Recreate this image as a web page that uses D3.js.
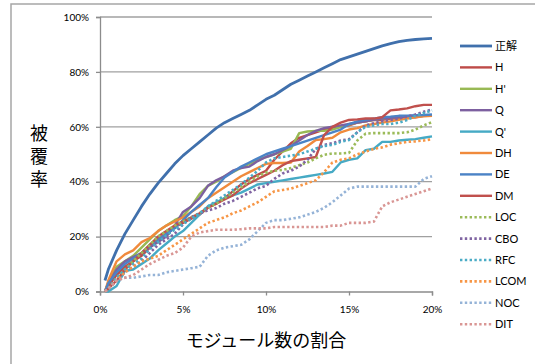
<!DOCTYPE html>
<html lang="ja">
<head>
<meta charset="UTF-8">
<title>被覆率</title>
<script src="https://d3js.org/d3.v7.min.js"></script>
<style>
  body { margin: 0; background: #fff; }
  text { font-family: Lato, "Open Sans", sans-serif; fill: #000; }
  .jp { font-family: "Noto Sans CJK JP", sans-serif; }
</style>
</head>
<body>
<script>
// x: モジュール数の割合 (%)
const xs = [0.3, 0.5, 1, 1.5, 2, 2.5, 3, 3.5, 4, 4.5, 5, 5.5, 6, 6.5, 7, 7.5, 8, 8.5, 9, 9.5, 10,
            10.5, 11, 11.5, 12, 12.5, 13, 13.5, 14, 14.5, 15, 15.5, 16, 16.5, 17, 17.5, 18, 18.5, 19, 19.5, 20];

const seiKai = [4, 8, 15, 21, 26, 31, 35.5, 39.5, 43, 46.5, 49.5, 52, 54.5, 57, 59.5, 61.5, 63, 64.5, 66, 68, 70,
                71.5, 73.5, 75.5, 77, 78.5, 80, 81.5, 83, 84.5, 85.5, 86.5, 87.5, 88.5, 89.5, 90.3, 91, 91.5, 91.8, 92, 92.2];
const H     = [0, 2, 6, 9, 11, 13, 16, 19, 21, 23.5, 25, 26.5, 28, 30.5, 32, 34, 36.5, 39, 41, 42.5, 44,
               48, 51, 54, 56, 57, 58, 59, 59.5, 60, 60.5, 61.5, 62, 62.5, 62.5, 63, 63, 63.5, 63.5, 64, 64];
const Hp    = [0, 3, 9, 11, 13, 16, 19, 22, 24, 26, 27.5, 31, 35.5, 38.5, 40, 42, 43.5, 45, 46.5, 48, 49,
               50, 51, 52, 57.7, 58.3, 58.5, 58.5, 59, 60, 60.8, 61.5, 62, 62.5, 63, 63.3, 63.5, 63.7, 64, 64, 64];
const Q     = [0, 3, 8, 11, 12.5, 14, 16, 18, 20, 24, 29, 31, 34, 38.5, 40.5, 42, 44, 45, 45.5, 47.5, 49,
               50, 51.5, 53, 55, 57, 58.5, 59.5, 60, 60.5, 61, 61.5, 62, 62.5, 63, 63.3, 63.5, 63.7, 64, 64, 64];
const Qp    = [0, 0, 2, 7.5, 8, 10, 12, 15, 17.5, 20, 22, 25, 28, 31, 32.5, 34, 35, 36, 37.5, 39, 39.5,
               40, 40.5, 41, 41.5, 42, 42.5, 43, 43.6, 47, 48, 48.5, 51.5, 52, 54.5, 54.5, 55, 55.3, 55.5, 56, 56.5];
const DH    = [0, 4, 11, 13.5, 15, 18, 19.5, 22, 24, 25.5, 27, 29, 31, 34, 36, 38, 40, 42, 43.5, 45, 46.5,
               46.8, 46.8, 47, 51, 53, 55.2, 55.5, 56, 58, 59, 59.5, 60.5, 61, 61.5, 62, 62.5, 63, 63.5, 63.8, 64];
const DE    = [0, 3, 7, 10, 12, 14, 17, 19, 21, 23, 26, 29, 31.5, 34, 38, 41.5, 43.5, 45.5, 47, 48.5, 50,
               51, 52, 53, 54, 55, 56, 57, 58, 59, 61, 62, 62.5, 63, 63.5, 63.7, 64, 64, 64.2, 64.3, 64.5];
const DM    = [0, 1, 4, 8, 11, 14, 17, 20, 22, 24, 25.5, 27, 28.5, 30.5, 32, 33.5, 35, 37.5, 39.5, 41, 42.5,
               44, 46, 47.5, 48, 48.5, 49, 57, 60, 61.5, 62.5, 62.7, 63, 63, 63.5, 66, 66.3, 66.7, 67.5, 68, 68];
const LOC   = [0, 1, 5, 8, 11, 14, 17, 20, 22, 24, 25.5, 27, 28.5, 30.5, 32, 34, 36, 38, 40, 42, 43.3,
               44, 44.3, 45, 46, 47, 48.5, 49.8, 50.3, 50.3, 50.5, 55, 57.5, 57.7, 57.7, 57.7, 57.7, 58, 59, 60.5, 61.7];
const CBO   = [0, 1, 4, 7, 9, 11, 14, 17, 19, 21, 24.5, 27, 28.5, 29.5, 30.4, 32, 33, 34.5, 36, 37.6, 38.5,
               41, 43, 44, 45.5, 48, 52, 53.4, 54, 55, 55.5, 58, 60.5, 61.3, 62, 62.5, 63, 63.7, 64.5, 65.5, 66.3];
const RFC   = [0, 1, 5, 8, 10, 12, 15.5, 18, 20.5, 22.5, 24.5, 26.5, 28.5, 31, 33, 35, 37, 39, 41.5, 44, 47,
               48.5, 49, 49.5, 50, 51, 52, 53, 53.4, 54.5, 55.2, 58, 60, 60.5, 61, 61, 61.5, 62.5, 64, 65, 66];
const LCOM  = [0, 1, 4, 7, 9, 11, 12, 13, 15, 17, 19, 21, 23, 25, 26, 27, 28.5, 29.5, 31, 32.5, 34.5,
               36.5, 37, 37.5, 38.5, 39.5, 40.5, 43.5, 47, 48, 48.5, 50, 51, 52, 52.5, 53.5, 54, 54.5, 54.7, 55, 55.5];
const NOC   = [0, 1, 4, 5, 5, 5.5, 6, 6, 7, 7.5, 8, 8.5, 9, 13, 15, 16, 16.5, 17, 19, 22, 25,
               26, 26, 26.5, 27, 28, 29, 30.5, 32.5, 35, 37.5, 38.2, 38.2, 38.2, 38.2, 38.2, 38.2, 38.2, 38.2, 41, 42];
const DIT   = [0, 1, 4, 5, 6, 8, 10, 11.5, 13, 14, 16, 20, 21.5, 22, 22.5, 22.5, 22.5, 22.7, 23, 23, 23,
               23.5, 23.5, 23.5, 23.5, 23.5, 23.5, 23.5, 24, 24, 25, 25, 25, 25.5, 31, 32.5, 33.5, 34.5, 35.5, 36.5, 37.5];

const names  = ["正解", "H", "H'", "Q", "Q'", "DH", "DE", "DM", "LOC", "CBO", "RFC", "LCOM", "NOC", "DIT"];
const values = [seiKai, H, Hp, Q, Qp, DH, DE, DM, LOC, CBO, RFC, LCOM, NOC, DIT];
const colors = ["#4070AC", "#BE4B48", "#98B954", "#7D60A0", "#46AAC5", "#F08A3C", "#4B83C6",
                "#C0504D", "#9BBB59", "#8064A2", "#4BACC6", "#F79646", "#95B3D7", "#D99694"];
const dotted = [false, false, false, false, false, false, false, false, true, true, true, true, true, true];

const yTicks = [0, 20, 40, 60, 80, 100];
const xTicks = [0, 5, 10, 15, 20];

const W = 535, H_ = 364;
const svg = d3.select("body").append("svg").attr("width", W).attr("height", H_);

// chart frame
svg.append("rect").attr("x", 11).attr("y", 4).attr("width", 600).attr("height", 420)
    .attr("fill", "none").attr("stroke", "#a6a6a6").attr("stroke-width", 1.5);

const x = d3.scaleLinear().domain([0, 20]).range([100, 432]);
const y = d3.scaleLinear().domain([0, 100]).range([291.5, 17]);

// gridlines
svg.append("g").selectAll("line").data(yTicks.filter(d => d > 0)).enter().append("line")
    .attr("x1", x(0)).attr("x2", x(20))
    .attr("y1", d => y(d)).attr("y2", d => y(d))
    .attr("stroke", "#a0a0a0").attr("stroke-width", 1.3);

// axes
const yAxis = svg.append("g").attr("transform", `translate(${x(0)},0)`)
    .call(d3.axisLeft(y).tickValues(yTicks).tickSize(4).tickPadding(7).tickFormat(d => d + "%"));
const xAxis = svg.append("g").attr("transform", `translate(0,${y(0)})`)
    .call(d3.axisBottom(x).tickValues(xTicks).tickSize(4).tickPadding(10).tickFormat(d => d + "%"));
[yAxis, xAxis].forEach(a => {
    a.select(".domain").attr("stroke", "#8c8c8c").attr("stroke-width", 1.3);
    a.selectAll(".tick line").attr("stroke", "#8c8c8c").attr("stroke-width", 1.3);
    a.selectAll("text").attr("font-size", "10px").attr("font-family", "Lato, sans-serif").attr("fill", "#000");
});

// series
const line = d3.line().x((d, i) => x(xs[i])).y(d => y(d));
svg.append("g").selectAll("path").data(values).enter().append("path")
    .attr("d", d => line(d))
    .attr("fill", "none")
    .attr("stroke", (d, i) => colors[i])
    .attr("stroke-width", (d, i) => i === 0 ? 2.8 : (dotted[i] ? 2.6 : 2.4))
    .attr("stroke-dasharray", (d, i) => dotted[i] ? "2.4,2.4" : null)
    .attr("stroke-linejoin", "round");

// legend
const lg = svg.append("g").selectAll("g").data(names).enter().append("g")
    .attr("transform", (d, i) => `translate(460,${46 + i * 21.4})`);
lg.append("line").attr("x1", 0).attr("x2", 32).attr("y1", 0).attr("y2", 0)
    .attr("stroke", (d, i) => colors[i])
    .attr("stroke-width", (d, i) => i === 0 ? 2.8 : (dotted[i] ? 2.6 : 2.4))
    .attr("stroke-dasharray", (d, i) => dotted[i] ? "2.4,2.4" : null);
lg.append("text").attr("x", 35).attr("y", 0).attr("dy", "0.36em")
    .attr("font-size", "11px")
    .attr("class", (d, i) => i === 0 ? "jp" : null)
    .text(d => d);

// axis titles
svg.append("text").attr("class", "jp")
    .attr("x", 39).attr("y", 124)
    .attr("font-size", "18px")
    .style("writing-mode", "vertical-rl")
    .style("letter-spacing", "5px")
    .text("被覆率");
svg.append("text").attr("class", "jp").attr("x", 266).attr("y", 347)
    .attr("font-size", "18px").attr("text-anchor", "middle").text("モジュール数の割合");
</script>
</body>
</html>
